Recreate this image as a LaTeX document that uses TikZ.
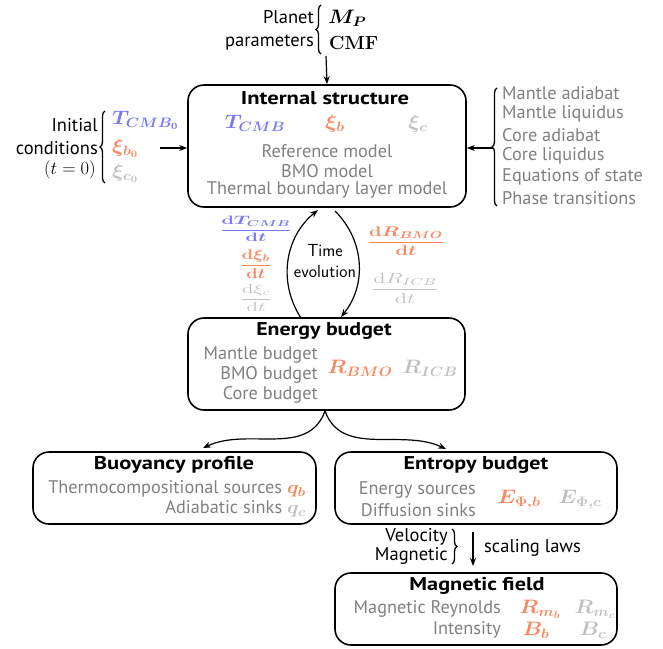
\RequirePackage{fix-cm}
\documentclass[tikz,border=0pt]{standalone}
\usepackage{amsmath,bm}
\usepackage[no-math]{fontspec}
\setmainfont{PT Sans}
\usetikzlibrary{arrows.meta,decorations.pathreplacing}
\definecolor{cblue}{RGB}{120,120,240}
\definecolor{corange}{RGB}{250,135,95}
\definecolor{cgray}{RGB}{128,128,128}
\definecolor{clight}{RGB}{192,192,192}
\newcommand{\xs}[2]{\scalebox{#1}[1]{#2}}
\newcommand{\mx}[1]{\scalebox{1.1}[1]{$#1$}}
\begin{document}
\begin{tikzpicture}[x=1pt,y=-1pt,
  box/.style={draw,line width=1.6pt,rounded corners=16pt,inner sep=0pt},
  ttl/.style={font=\fontsize{18.5}{21}\selectfont\bfseries,inner sep=0pt},
  txt/.style={font=\fontsize{18.3}{21}\selectfont,text=cgray,inner sep=0pt},
  lbl/.style={font=\fontsize{18.5}{21}\selectfont,inner sep=0pt},
  mth/.style={font=\fontsize{19.5}{23}\selectfont,inner sep=0pt},
  frc/.style={font=\fontsize{15}{18}\selectfont,inner sep=0pt},
  arr/.style={line width=1.2pt,-{Stealth[length=8pt,width=6pt]}},
  brc/.style={line width=1.3pt,decorate,decoration={brace,amplitude=5pt}}
]
\useasboundingbox (0,0) rectangle (663,648);

% top: planet parameters
\node[lbl,anchor=east] (planet) at (314,17) {Planet};
\node[lbl,anchor=east] (params) at (314,43) {parameters};
\draw[brc] (321,54) -- (321,5);
\node[mth,anchor=west] (mp) at (328,18) {\mx{\bm{M_P}}};
\node[font=\fontsize{19}{22}\selectfont,inner sep=0pt,anchor=west] (cmf) at (329,43) {$\mathbf{CMF}$};
\coordinate (ptop) at (326,56);

% internal structure
\node[box,minimum width=278pt,minimum height=122pt] (inner) at (327,146) {};
\node[ttl] (tis) at (325,98) {\xs{1.22}{Internal structure}};
\node[mth,text=cblue] (tcmb) at (255,123) {\mx{\bm{T_{CMB}}}};
\node[mth,text=corange] (xib) at (335,124) {\mx{\bm{\xi_b}}};
\node[mth,text=clight] (xic) at (418,124) {\mx{\bm{\xi_c}}};
\node[txt] (ref) at (327,151) {Reference model};
\node[txt] (bmo) at (327,171) {BMO model};
\node[txt] (tbl) at (327,190) {Thermal boundary layer model};
\draw[arr] (ptop) -- (inner.north);

% initial conditions
\node[lbl,anchor=east] (ini) at (98,125) {Initial};
\node[lbl,anchor=east] (cond) at (98,148) {conditions};
\node[lbl,anchor=east] (tz) at (96,170) {$(t=0)$};
\draw[brc] (105,183) -- (105,111);
\node[mth,anchor=west,text=cblue] (t0) at (112,120) {\mx{\bm{T_{CMB_0}}}};
\node[mth,anchor=west,text=corange] (xb0) at (112,148) {\mx{\bm{\xi_{b_0}}}};
\node[mth,anchor=west,text=clight] (xc0) at (112,173) {\mx{\bm{\xi_{c_0}}}};
\coordinate (icarr) at (160,148);
\draw[arr] (icarr) -- (icarr -| inner.west);

% right list
\draw[brc] (497,206) -- (497,88);
\node[txt,anchor=west] (r1) at (502,93) {Mantle adiabat};
\node[txt,anchor=west] (r2) at (502,114) {Mantle liquidus};
\node[txt,anchor=west] (r3) at (502,135) {Core adiabat};
\node[txt,anchor=west] (r4) at (502,156) {Core liquidus};
\node[txt,anchor=west] (r5) at (502,177) {Equations of state};
\node[txt,anchor=west] (r6) at (502,198) {Phase transitions};
\coordinate (rarr) at (493,148);
\draw[arr] (rarr) -- (rarr -| inner.east);

% energy budget
\node[box,minimum width=277pt,minimum height=92pt] (energy) at (326.5,364) {};
\node[ttl] (teb) at (324,331) {\xs{1.18}{Energy budget}};
\node[txt,anchor=east] (mb) at (318,355) {Mantle budget};
\node[txt,anchor=east] (bb) at (318,375) {BMO budget};
\node[txt,anchor=east] (cb) at (318,395) {Core budget};
\node[mth,text=corange] (rbmo) at (360,368) {\mx{\bm{R_{BMO}}}};
\node[mth,text=clight] (ricb) at (430,368) {\mx{\bm{R_{ICB}}}};

% time evolution
\node[font=\sffamily\fontsize{17.5}{20}\selectfont,inner sep=0pt] (time) at (325,251) {Time};
\node[font=\sffamily\fontsize{17.5}{20}\selectfont,inner sep=0pt] (evol) at (325,271) {evolution};
\coordinate (la) at (301,318);
\coordinate (lb) at (318,210);
\coordinate (ra) at (335,211);
\coordinate (rb) at (341,317);
\draw[arr] (la) to[bend left=42] (lb);
\draw[arr] (ra) to[bend left=42] (rb);

% derivatives
\node[frc,text=cblue] (dT) at (256,229) {\resizebox*{72pt}{25pt}{$\dfrac{\mathbf{d}\bm{T_{CMB}}}{\mathbf{d}\bm{t}}$}};
\node[frc,text=corange] (dxb) at (256,264) {\resizebox*{31pt}{29pt}{$\dfrac{\mathbf{d}\bm{\xi_b}}{\mathbf{d}\bm{t}}$}};
\node[frc,text=clight] (dxc) at (256,298) {\resizebox*{31pt}{27pt}{$\dfrac{\mathrm{d}\xi_c}{\mathrm{d}t}$}};
\node[frc,text=corange] (dRb) at (406,241) {\resizebox*{77pt}{29pt}{$\dfrac{\mathbf{d}\bm{R_{BMO}}}{\mathbf{d}\bm{t}}$}};
\node[frc,text=clight] (dRi) at (405,288) {\resizebox*{67pt}{30pt}{$\dfrac{\mathrm{d}R_{ICB}}{\mathrm{d}t}$}};

% buoyancy profile
\node[box,minimum width=283pt,minimum height=72pt] (buoy) at (174.5,488) {};
\node[ttl] (tbp) at (174,465) {\xs{1.22}{Buoyancy profile}};
\node[txt,anchor=east] (ts) at (306,489) {Thermocompositional sources \textcolor{corange}{\mx{\bm{q_b}}}};
\node[txt,anchor=east] (as) at (306,509) {Adiabatic sinks \textcolor{clight}{\mx{\bm{q_c}}}};

% entropy budget
\node[box,minimum width=282pt,minimum height=72pt] (entropy) at (476,488) {};
\node[ttl] (teb2) at (476,465) {\xs{1.19}{Entropy budget}};
\node[txt,anchor=east] (es) at (476,490) {Energy sources};
\node[txt,anchor=east] (ds) at (476,510) {Diffusion sinks};
\node[mth,text=corange] (ephib) at (519,500) {\mx{\bm{E_{\Phi,b}}}};
\node[mth,text=clight] (ephic) at (580,500) {\mx{\bm{E_{\Phi,c}}}};

% split arrows
\coordinate (eb) at (325,411);
\coordinate (bt) at (203,448);
\coordinate (et) at (446,449);
\draw[arr] (eb) to[out=-110,in=25] (bt);
\draw[arr] (eb) to[out=-70,in=155] (et);

% scaling laws
\node[lbl,anchor=east] (vel) at (448,537) {Velocity};
\node[lbl,anchor=east] (mag) at (448,556) {Magnetic};
\draw[brc] (452,529) -- (452,564);
\coordinate (sa) at (473,532);
\coordinate (sb) at (473,566);
\draw[arr] (sa) -- (sb);
\node[lbl,anchor=west] (sl) at (484,548) {scaling laws};

% magnetic field
\node[box,minimum width=282pt,minimum height=72pt] (magf) at (476,609) {};
\node[ttl] (tmf) at (477,586) {\xs{1.2}{Magnetic field}};
\node[txt,anchor=east] (mr) at (501,609) {Magnetic Reynolds};
\node[txt,anchor=east] (mi) at (501,630) {Intensity};
\node[mth,text=corange] (rmb) at (540,609) {\mx{\bm{R_{m_b}}}};
\node[mth,text=clight] (rmc) at (595,609) {\mx{\bm{R_{m_c}}}};
\node[mth,text=corange] (bb2) at (536,630) {\mx{\bm{B_b}}};
\node[mth,text=clight] (bc) at (593,630) {\mx{\bm{B_c}}};
\end{tikzpicture}
\end{document}
